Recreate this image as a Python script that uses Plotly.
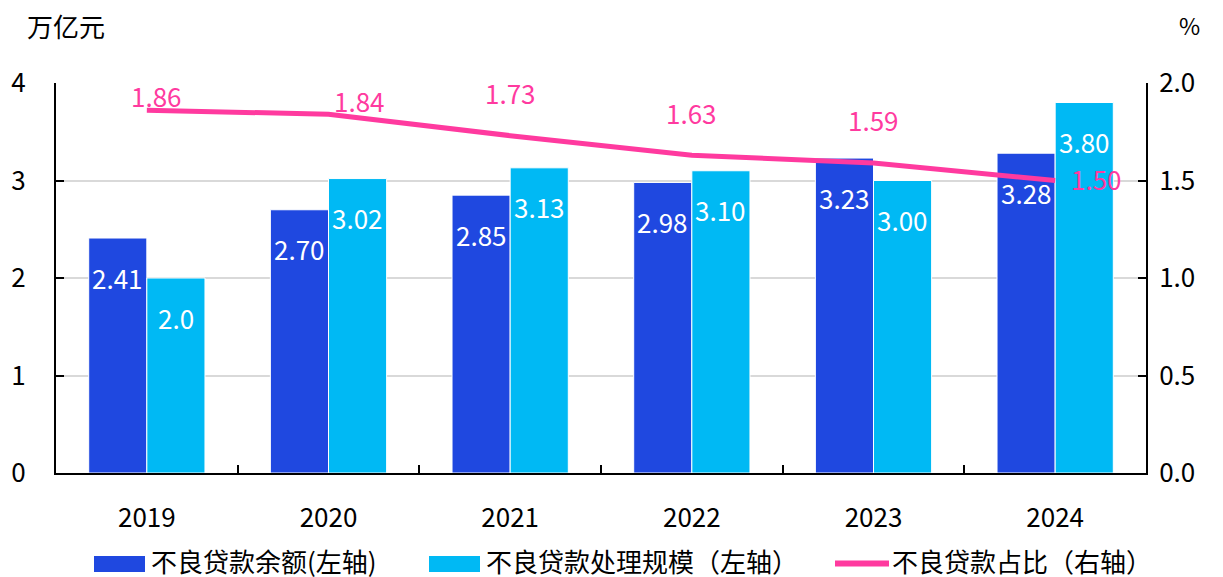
import plotly.graph_objects as go

years = ["2019", "2020", "2021", "2022", "2023", "2024"]
npl_balance = [2.41, 2.70, 2.85, 2.98, 3.23, 3.28]
npl_disposal = [2.0, 3.02, 3.13, 3.10, 3.00, 3.80]
npl_ratio = [1.86, 1.84, 1.73, 1.63, 1.59, 1.50]
balance_labels = ["2.41", "2.70", "2.85", "2.98", "3.23", "3.28"]
disposal_labels = ["2.0", "3.02", "3.13", "3.10", "3.00", "3.80"]
ratio_labels = ["1.86", "1.84", "1.73", "1.63", "1.59", "1.50"]

C_DARK = "#1F48E0"
C_LIGHT = "#00B9F4"
C_PINK = "#FF3A9F"
FONT = "Noto Sans CJK SC"
FS = 26

# page body margin offset of the browser
OFF = 8
W, H = 1223 - OFF, 577 - OFF
# plot area in screen pixels
SX0, SX1, SY0, SY1 = 56, 1146, 83, 473
L, T = SX0 - OFF, SY0 - OFF
R, B = W - (SX1 - OFF), H - (SY1 - OFF)
PW, PH = SX1 - SX0, SY1 - SY0


def px(x):
    return (x - SX0) / PW


def py(y):
    return (SY1 - y) / PH


fig = go.Figure()
fig.add_trace(go.Bar(x=years, y=npl_balance, name="不良贷款余额(左轴)",
                     marker=dict(color=C_DARK, line=dict(color="white", width=1)),
                     showlegend=False))
fig.add_trace(go.Bar(x=years, y=npl_disposal, name="不良贷款处理规模（左轴）",
                     marker=dict(color=C_LIGHT, line=dict(color="white", width=1)),
                     showlegend=False))
fig.add_trace(go.Scatter(x=years, y=npl_ratio, yaxis="y2", mode="lines",
                         name="不良贷款占比（右轴）",
                         line=dict(color=C_PINK, width=5), showlegend=False))

annotations = []
half_bar = PW / 6 * 0.16
for i, yr in enumerate(years):
    annotations.append(dict(x=i, y=npl_balance[i], xref="x", yref="y", text=balance_labels[i],
                            showarrow=False, xshift=-half_bar, yshift=-39,
                            font=dict(color="white", size=FS, family=FONT)))
    annotations.append(dict(x=i, y=npl_disposal[i], xref="x", yref="y", text=disposal_labels[i],
                            showarrow=False, xshift=half_bar, yshift=-39,
                            font=dict(color="white", size=FS, family=FONT)))

ratio_offsets = [(10, 15), (31, 14), (0, 43), (0, 43), (0, 43), (41, 2)]
for i, yr in enumerate(years):
    dx, dy = ratio_offsets[i]
    annotations.append(dict(x=i, y=npl_ratio[i], xref="x", yref="y2", text=ratio_labels[i],
                            showarrow=False, xshift=dx, yshift=dy,
                            font=dict(color=C_PINK, size=FS, family=FONT)))

annotations.append(dict(x=px(26), y=py(25), xref="paper", yref="paper", text="万亿元",
                        xanchor="left", yanchor="middle", showarrow=False, borderpad=0,
                        font=dict(color="black", size=FS, family=FONT)))
annotations.append(dict(x=px(1189), y=py(25), xref="paper", yref="paper", text="%",
                        xanchor="center", yanchor="middle", showarrow=False, borderpad=0,
                        font=dict(color="black", size=FS - 3, family=FONT)))

# legend (manual)
shapes = []
legend_items = [
    ("rect", C_DARK, 94, 145, "不良贷款余额(左轴)", 150),
    ("rect", C_LIGHT, 429, 480, "不良贷款处理规模（左轴）", 485),
    ("line", C_PINK, 835, 889, "不良贷款占比（右轴）", 891),
]
LY = 563
for kind, col, x0, x1, label, tx in legend_items:
    if kind == "rect":
        shapes.append(dict(type="rect", xref="paper", yref="paper",
                           x0=px(x0), x1=px(x1), y0=py(LY - 7), y1=py(LY + 9),
                           fillcolor=col, line=dict(width=0)))
    else:
        shapes.append(dict(type="line", xref="paper", yref="paper",
                           x0=px(x0), x1=px(x1), y0=py(LY + 0.5), y1=py(LY + 0.5),
                           line=dict(color=col, width=6)))
    annotations.append(dict(x=px(tx), y=py(LY - 3), xref="paper", yref="paper", text=label,
                            xanchor="left", yanchor="middle", showarrow=False, borderpad=0,
                            font=dict(color="black", size=FS, family=FONT)))

fig.update_layout(
    width=W, height=H,
    margin=dict(l=L, r=R, t=T, b=B),
    paper_bgcolor="white", plot_bgcolor="white",
    barmode="group", bargap=0.36, bargroupgap=0,
    font=dict(family=FONT, size=FS, color="black"),
    xaxis=dict(type="category", range=[-0.5, 5.5], automargin=False,
               showline=True, linecolor="black", linewidth=2,
               ticks="inside", tickson="boundaries", ticklen=8, tickcolor="black", tickwidth=2,
               showgrid=False, ticklabelstandoff=21,
               tickfont=dict(size=FS, family=FONT, color="black")),
    yaxis=dict(range=[0, 4], dtick=1, automargin=False,
               showline=True, linecolor="black", linewidth=2,
               ticks="inside", ticklen=8, tickcolor="black", tickwidth=2,
               showgrid=True, gridcolor="#D9D9D9", gridwidth=2, zeroline=False,
               ticklabelstandoff=23,
               tickfont=dict(size=FS, family=FONT, color="black")),
    yaxis2=dict(range=[0, 2], dtick=0.5, tickformat=".1f", overlaying="y", side="right",
                automargin=False,
                showline=True, linecolor="black", linewidth=2,
                ticks="inside", ticklen=8, tickcolor="black", tickwidth=2,
                showgrid=False, zeroline=False, ticklabelstandoff=6,
                tickfont=dict(size=FS, family=FONT, color="black")),
    annotations=annotations,
    shapes=shapes,
)

fig.write_html("out.html")
